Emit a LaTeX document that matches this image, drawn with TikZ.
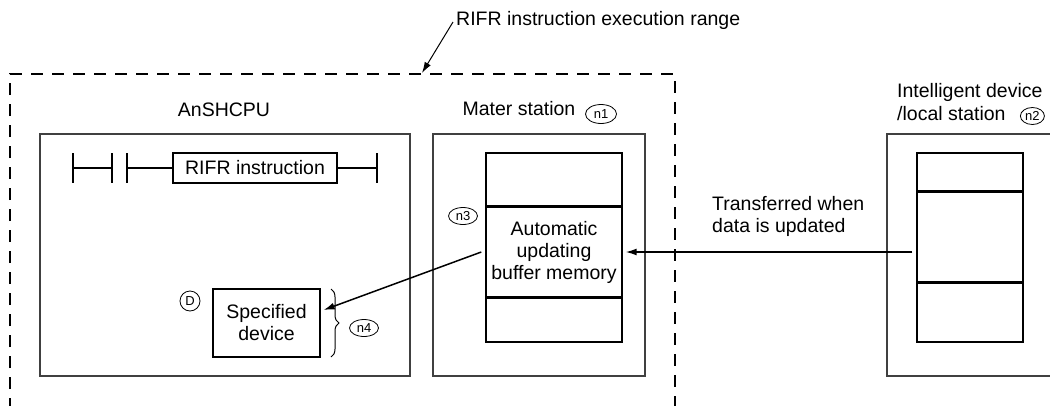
\documentclass[tikz,border=0pt]{standalone}
\usepackage{fontspec}
\setmainfont{Liberation Sans}
\usetikzlibrary{arrows.meta,shapes.geometric,decorations.pathreplacing,calc}
\begin{document}
\begin{tikzpicture}[x=1pt,y=-1pt,
  lbl/.style={font=\fontsize{19.5}{22}\selectfont, inner sep=0pt},
  outerbox/.style={draw=black!75, line width=1.3pt, inner sep=0pt},
  membox/.style={draw=black, line width=1.4pt, inner sep=0pt},
  divline/.style={draw=black, line width=2pt},
  ladder/.style={draw=black, line width=1.8pt},
  circ/.style={draw=black, ellipse, line width=0.8pt, inner sep=0pt, font=\fontsize{13}{13}\selectfont, minimum width=26pt, minimum height=17pt},
  arr/.style={draw=black, line width=1.5pt, -{Latex[length=11pt,width=7pt]}},
  dashbox/.style={draw=black, line width=1.8pt, dash pattern=on 12pt off 9pt}
]
\useasboundingbox (0,0) rectangle (1050,405);
% dashed execution range
\coordinate (dbl) at (10,410);
\coordinate (dtl) at (10,74);
\coordinate (dtr) at (675,74);
\coordinate (dbr) at (675,410);
\draw[dashbox] (dbl) -- (dtl) -- (dtr) -- (dbr);
\node[lbl, anchor=west] (range) at (456,20) {RIFR instruction execution range};
\coordinate (leadstart) at (453,22);
\coordinate (leadend) at (422,73);
\draw[arr, line width=1pt] (leadstart) -- (leadend);

% AnSHCPU
\node[outerbox, minimum width=370pt, minimum height=242pt] (cpu) at (225,255) {};
\node[lbl] (cputitle) at (224,110) {AnSHCPU};
% ladder
\coordinate (lr1) at (73,153); \coordinate (lr2) at (73,183);
\coordinate (c1a) at (112,153); \coordinate (c1b) at (112,183);
\coordinate (c2a) at (127,153); \coordinate (c2b) at (127,183);
\coordinate (rr1) at (377,153); \coordinate (rr2) at (377,183);
\node[draw=black, line width=1.3pt, inner sep=0pt, minimum width=164pt, minimum height=30pt, lbl] (rifr) at (255,168) {RIFR instruction};
\draw[ladder] (lr1) -- (lr2);
\draw[ladder] (c1a) -- (c1b);
\draw[ladder] (c2a) -- (c2b);
\draw[ladder] (rr1) -- (rr2);
\draw[ladder] ($(lr1)!0.5!(lr2)$) -- ($(c1a)!0.5!(c1b)$);
\draw[ladder] ($(c2a)!0.5!(c2b)$) -- (rifr.west);
\draw[ladder] (rifr.east) -- ($(rr1)!0.5!(rr2)$);
% specified device
\node[draw=black, line width=1.3pt, minimum width=107pt, minimum height=68pt, inner sep=0pt, lbl, align=center] (spec) at (266.5,323) {Specified\\device};
\node[draw=black, circle, line width=0.8pt, inner sep=0pt, minimum size=20pt, font=\fontsize{13}{13}\selectfont] (d) at (190,301) {D};
\coordinate (brtop) at (331,289);
\coordinate (brbot) at (331,357);
\draw[line width=1pt, decorate, decoration={brace, amplitude=8pt}] (brtop) -- (brbot);
\node[circ, minimum width=29pt, minimum height=17pt] (n4) at (364,328) {n4};

% Master station
\node[outerbox, minimum width=212pt, minimum height=242pt] (master) at (539,255) {};
\node[lbl] (mtitle) at (519,109) {Mater station};
\node[circ, minimum width=31pt, minimum height=19pt] (n1) at (601,114) {n1};
\node[membox, minimum width=136pt, minimum height=54pt] (btop) at (554,180) {};
\node[membox, minimum width=136pt, minimum height=90pt, lbl, align=center] (bmid) at (554,252) {Automatic\\updating\\buffer memory};
\node[membox, minimum width=136pt, minimum height=45pt] (bbot) at (554,319.5) {};
\draw[divline] (bmid.north west) -- (bmid.north east);
\draw[divline] (bmid.south west) -- (bmid.south east);
\node[circ, minimum width=29pt, minimum height=17pt] (n3) at (463,216) {n3};

% Intelligent device / local station
\coordinate (ib1) at (1052,134);
\coordinate (ib2) at (887,134);
\coordinate (ib3) at (887,376);
\coordinate (ib4) at (1052,376);
\draw[draw=black!75, line width=1.3pt] (ib1) -- (ib2) -- (ib3) -- (ib4);
\node[lbl, anchor=west] (it1) at (897,92) {Intelligent device};
\node[lbl, anchor=west] (it2) at (897,114) {/local station};
\node[circ, minimum width=24pt, minimum height=17pt, anchor=west] (n2) at (1020,116) {n2};
\node[membox, minimum width=106pt, minimum height=39pt] (itop) at (970,172.5) {};
\node[membox, minimum width=106pt, minimum height=90pt] (imid) at (970,237) {};
\node[membox, minimum width=106pt, minimum height=60pt] (ibot) at (970,312) {};
\draw[divline] (imid.north west) -- (imid.north east);
\draw[divline] (imid.south west) -- (imid.south east);

% transfer arrows
\node[lbl, anchor=west, align=left] (trans) at (712,216) {Transferred when\\data is updated};
\draw[arr] ($(imid.west)+(-4,15)$) -- ($(bmid.east)+(3,0)$);
\draw[arr] ($(bmid.west)+(-4,0)$) -- ($(spec.east)+(3,-13)$);
\end{tikzpicture}
\end{document}
